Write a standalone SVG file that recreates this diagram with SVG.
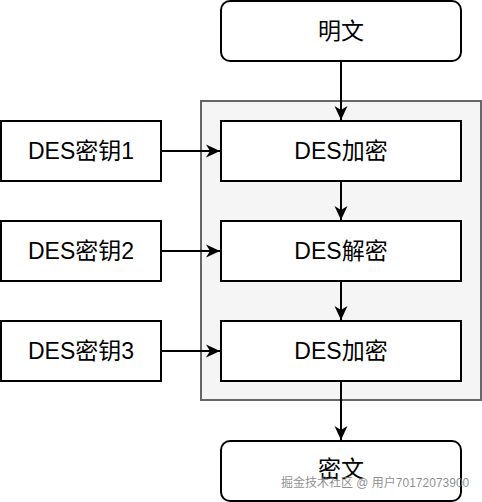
<svg xmlns="http://www.w3.org/2000/svg" width="482" height="502" viewBox="0 0 482 502">
<style>
.box{fill:#ffffff;stroke:#000000;stroke-width:2}
.grp{fill:#f5f5f5;stroke:#666666;stroke-width:2}
.t{font-family:"Liberation Sans","Noto Sans CJK SC",sans-serif;font-size:23px;fill:#000000;text-anchor:middle;dominant-baseline:central}
.edge{stroke:#000000;stroke-width:2;fill:none;marker-end:url(#arr)}
.wm{font-family:"Liberation Sans","Noto Sans CJK SC",sans-serif;font-size:12px;fill:#7a7a7a;fill-opacity:0.85}
</style>
<defs>
<marker id="arr" markerWidth="16" markerHeight="14" viewBox="0 0 16 14" refX="15" refY="7" orient="auto" markerUnits="userSpaceOnUse">
<path d="M1,0.5 L15,7 L1,13.5 L5,7 Z" fill="#000000"/>
</marker>
</defs>
<g id="container"><rect class="grp" x="201" y="101" width="280" height="299"/></g>
<g id="plain"><rect class="box" x="221" y="1" width="240" height="60" rx="9"/><text class="t" x="341" y="31">明文</text></g>
<g id="enc1"><rect class="box" x="221" y="121" width="240" height="60"/><text class="t" x="341" y="151">DES加密</text></g>
<g id="dec"><rect class="box" x="221" y="221" width="240" height="60"/><text class="t" x="341" y="251">DES解密</text></g>
<g id="enc2"><rect class="box" x="221" y="321" width="240" height="60"/><text class="t" x="341" y="351">DES加密</text></g>
<g id="cipher"><rect class="box" x="221" y="441" width="240" height="60" rx="9"/><text class="t" x="341" y="469">密文</text></g>
<g id="key1"><rect class="box" x="1" y="121" width="160" height="60"/><text class="t" x="81" y="151">DES密钥1</text></g>
<g id="key2"><rect class="box" x="1" y="221" width="160" height="60"/><text class="t" x="81" y="251">DES密钥2</text></g>
<g id="key3"><rect class="box" x="1" y="321" width="160" height="60"/><text class="t" x="81" y="351">DES密钥3</text></g>
<g id="connectors">
<path class="edge" d="M341,61 L341,120"/>
<path class="edge" d="M341,181 L341,220"/>
<path class="edge" d="M341,281 L341,320"/>
<path class="edge" d="M341,381 L341,440"/>
<path class="edge" d="M161,151 L220,151"/>
<path class="edge" d="M161,251 L220,251"/>
<path class="edge" d="M161,351 L220,351"/>
</g>
<text class="wm" x="281" y="487">掘金技术社区 @ 用户70172073900</text>
</svg>
